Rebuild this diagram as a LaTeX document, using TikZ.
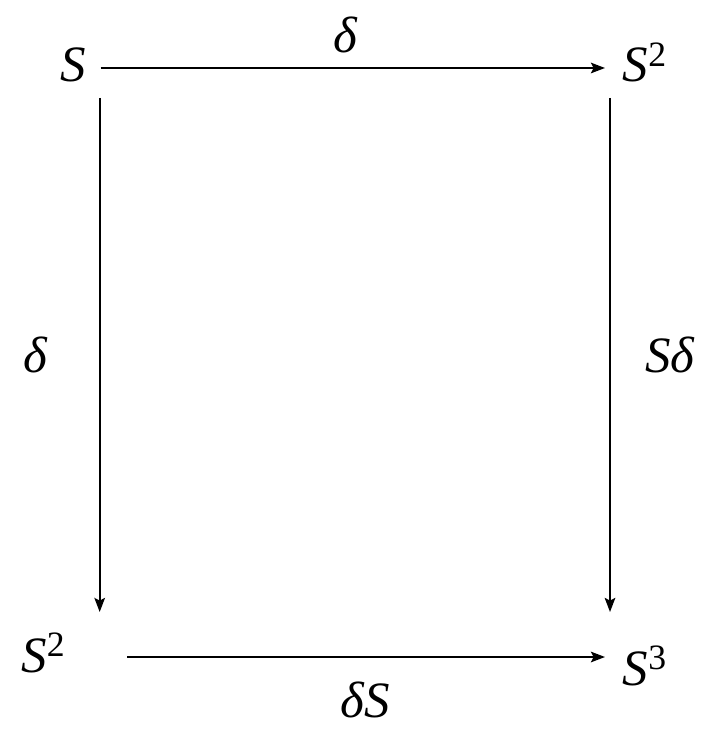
\documentclass[tikz,border=0pt]{standalone}
\usepackage{fontspec}
\setmainfont{Liberation Serif}
\usetikzlibrary{arrows.meta}

\begin{document}
\begin{tikzpicture}[x=1cm,y=1cm,>={Stealth[length=8pt,width=6pt,inset=1.5pt]},
  obj/.style={inner sep=0pt,anchor=base west,font=\fontsize{29}{34}\selectfont\itshape},
  lab/.style={inner sep=0pt,font=\fontsize{29}{34}\selectfont\itshape},
  map/.style={->,line width=1.1pt}]
\useasboundingbox (0,0) rectangle (14.1,-14.76);
\node[obj] (a) at (1.2,-1.64){S};
\node[obj] (b) at (12.45,-1.64){S\textsuperscript{\upshape 2}};
\node[obj] (c) at (0.42,-13.44){S\textsuperscript{\upshape 2}};
\node[obj] (d) at (12.45,-13.7){S\textsuperscript{\upshape 3}};
\draw[map] ([xshift=0.29cm,yshift=0.28cm]a.base east)--([xshift=-0.35cm,yshift=0.28cm]b.base west |- a.base);
\draw[map] ([xshift=0.27cm,yshift=-0.32cm]a.base east)--([xshift=0.27cm,yshift=1.2cm]a.base east |- c.base);
\draw[map] ([xshift=-0.25cm,yshift=-0.32cm]b.base west)--([xshift=-0.25cm,yshift=1.46cm]d.base west);
\draw[map] ([xshift=1.23cm,yshift=0.3cm]c.base east)--([xshift=-0.35cm,yshift=0.3cm]d.base west |- c.base);
\node[lab] (t) at (6.9,-0.7){δ};
\node[lab] (l) at (0.7,-7.1){δ};
\node[lab] (r) at (13.4,-7.1){Sδ};
\node[lab] (u) at (7.3,-14.0){δS};
\end{tikzpicture}
\end{document}
